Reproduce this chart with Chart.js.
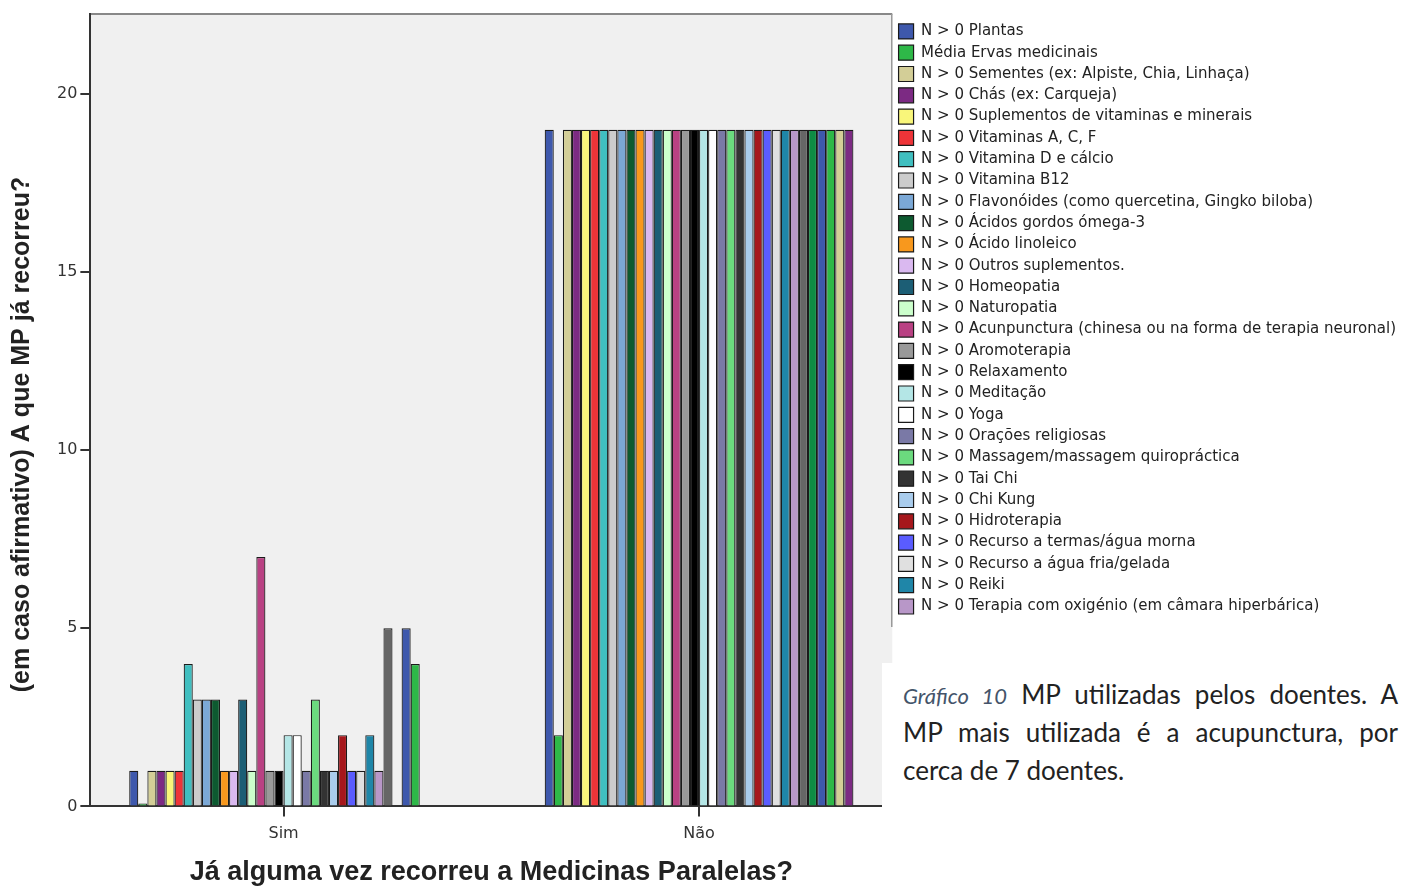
<!DOCTYPE html>
<html>
<head>
<meta charset="utf-8">
<script src="https://cdn.jsdelivr.net/npm/chart.js@4/dist/chart.umd.min.js"></script>
<style>
  body { margin: 0; background: #fff; }
  #wrap { position: relative; width: 1410px; height: 889px; }
  #caption {
    position: absolute; left: 882px; top: 663px; width: 528px; height: 226px;
    background: #fff; box-sizing: border-box; padding: 12px 12px 0 21px;
    font-family: Lato, 'Open Sans', sans-serif; font-size: 26px; color: #222;
  }
  #caption .line { height: 38px; line-height: 38px; white-space: nowrap; }
  #caption .j { text-align: justify; text-align-last: justify; }
  #caption .lab { font-style: italic; color: #44546a; font-size: 22px; }
</style>
</head>
<body>
<div id="wrap">
  <canvas id="myChart" width="1410" height="889"></canvas>
  <div id="caption">
    <div class="line j"><span class="lab">Gráfico 10</span> MP utilizadas pelos doentes. A</div>
    <div class="line j">MP mais utilizada é a acupunctura, por</div>
    <div class="line">cerca de 7 doentes.</div>
  </div>
</div>
<script>
// Categorias do eixo X
const categories = ['Sim', 'Não'];

// Nomes das séries (as 28 primeiras aparecem na legenda)
const seriesNames = [
  'N > 0 Plantas',
  'Média Ervas medicinais',
  'N > 0 Sementes (ex: Alpiste, Chia, Linhaça)',
  'N > 0 Chás (ex: Carqueja)',
  'N > 0 Suplementos de vitaminas e minerais',
  'N > 0 Vitaminas A, C, F',
  'N > 0 Vitamina D e cálcio',
  'N > 0 Vitamina B12',
  'N > 0 Flavonóides (como quercetina, Gingko biloba)',
  'N > 0 Ácidos gordos ómega-3',
  'N > 0 Ácido linoleico',
  'N > 0 Outros suplementos.',
  'N > 0 Homeopatia',
  'N > 0 Naturopatia',
  'N > 0 Acunpunctura (chinesa ou na forma de terapia neuronal)',
  'N > 0 Aromoterapia',
  'N > 0 Relaxamento',
  'N > 0 Meditação',
  'N > 0 Yoga',
  'N > 0 Orações religiosas',
  'N > 0 Massagem/massagem quiropráctica',
  'N > 0 Tai Chi',
  'N > 0 Chi Kung',
  'N > 0 Hidroterapia',
  'N > 0 Recurso a termas/água morna',
  'N > 0 Recurso a água fria/gelada',
  'N > 0 Reiki',
  'N > 0 Terapia com oxigénio (em câmara hiperbárica)',
  'Série 29', 'Série 30', 'Série 31', 'Série 32', 'Série 33', 'Série 34'
];
const legendCount = 28;

// Valores
const simValues = [1, 0.08, 1, 1, 1, 1, 4, 3, 3, 3, 1, 1, 3, 1, 7, 1, 1, 2, 2, 1, 3, 1, 1, 2, 1, 1, 2, 1, 5, 0, 5, 4, 0, 0];
const naoValues = [19, 2, 19, 19, 19, 19, 19, 19, 19, 19, 19, 19, 19, 19, 19, 19, 19, 19, 19, 19, 19, 19, 19, 19, 19, 19, 19, 19, 19, 19, 19, 19, 19, 19];

// Ticks do eixo Y
const yTicks = [0, 5, 10, 15, 20];

const seriesColors = [
  '#3e58ac', '#2eb848', '#d3ce97', '#7c2a83', '#f9f67a', '#ee3438', '#40bfc0',
  '#cccccc', '#7ba8d6', '#0d5a30', '#f8981d', '#dab9f0', '#1c5e75', '#ccffcc',
  '#b94183', '#999999', '#000000', '#b4e6e6', '#ffffff', '#7a79a6', '#6bda7e',
  '#333333', '#a9ccec', '#a6171c', '#5a5cff', '#e0e0e0', '#1f86a8', '#b897c8',
  '#666666', '#0e8c44', '#3e58ac', '#2eb848', '#d3ce97', '#7c2a83'
];

const datasets = seriesNames.map((name, i) => ({
  label: name,
  data: [{x: 0, y: simValues[i]}, {x: 1, y: naoValues[i]}],
  backgroundColor: seriesColors[i],
  borderColor: '#1a1a1a',
  borderWidth: 1.2
}));

// fundo cinzento e moldura
const plotFrame = {
  id: 'plotFrame',
  beforeDraw(chart) {
    const {ctx, chartArea: a} = chart;
    ctx.save();
    ctx.fillStyle = '#f0f0f0';
    ctx.fillRect(a.left, a.top, a.right - a.left, a.bottom - a.top);
    ctx.strokeStyle = '#888';
    ctx.lineWidth = 2;
    ctx.beginPath();
    ctx.moveTo(a.left, a.top);
    ctx.lineTo(a.right, a.top);
    ctx.stroke();
    const boxes = chart.legend.legendHitBoxes;
    const last = boxes[boxes.length - 1];
    ctx.lineWidth = 1.5;
    ctx.strokeStyle = '#999';
    ctx.beginPath();
    ctx.moveTo(a.right - 0.5, a.top);
    ctx.lineTo(a.right - 0.5, last.top + last.height + 13);
    ctx.stroke();
    ctx.restore();
  }
};

let ctx = document.getElementById('myChart').getContext('2d');
let chart = new Chart(ctx, {
  type: 'bar',
  data: { datasets: datasets },
  plugins: [plotFrame],
  options: {
    responsive: false,
    animation: false,
    layout: { padding: { top: 14, left: 0, right: 4, bottom: 0 } },
    datasets: { bar: { categoryPercentage: 0.743, barPercentage: 1 } },
    scales: {
      x: {
        type: 'linear',
        offset: false,
        min: -0.465,
        max: 1.465,
        afterBuildTicks: s => { s.ticks = categories.map((c, i) => ({value: i})); },
        ticks: {
          callback: v => categories[v],
          font: { family: 'DejaVu Sans', size: 16 },
          color: '#333',
          padding: 8,
          autoSkip: false,
          maxRotation: 0
        },
        grid: { offset: false, drawOnChartArea: false, drawTicks: true, tickLength: 10, color: '#333', lineWidth: 2 },
        border: { color: '#333', width: 2 },
        title: {
          display: true,
          text: 'Já alguma vez recorreu a Medicinas Paralelas?',
          font: { family: 'Liberation Sans', size: 27, weight: 'bold' },
          color: '#222',
          padding: { top: 5, bottom: 0 }
        }
      },
      y: {
        min: 0,
        max: 22.25,
        afterBuildTicks: s => { s.ticks = yTicks.map(v => ({value: v})); },
        ticks: {
          font: { family: 'DejaVu Sans', size: 16 },
          color: '#333',
          padding: 3
        },
        grid: { drawOnChartArea: false, drawTicks: true, tickLength: 10, color: '#333', lineWidth: 2 },
        border: { color: '#333', width: 2 },
        title: {
          display: true,
          // espaços finais para baixar o título
          text: '(em caso afirmativo) A que MP já recorreu?       ',
          font: { family: 'Liberation Sans', size: 25, weight: 'bold' },
          color: '#222',
          padding: { top: 7, bottom: 17 }
        }
      }
    },
    plugins: {
      legend: {
        position: 'right',
        align: 'start',
        maxWidth: 517,
        title: { display: true, text: ' ', font: { size: 3 }, padding: 0 },
        labels: {
          filter: item => item.datasetIndex < legendCount,
          font: { family: 'DejaVu Sans', size: 15 },
          color: '#222',
          boxWidth: 15,
          boxHeight: 15,
          padding: 6.3
        }
      },
      tooltip: { enabled: false }
    }
  }
});
</script>
</body>
</html>
